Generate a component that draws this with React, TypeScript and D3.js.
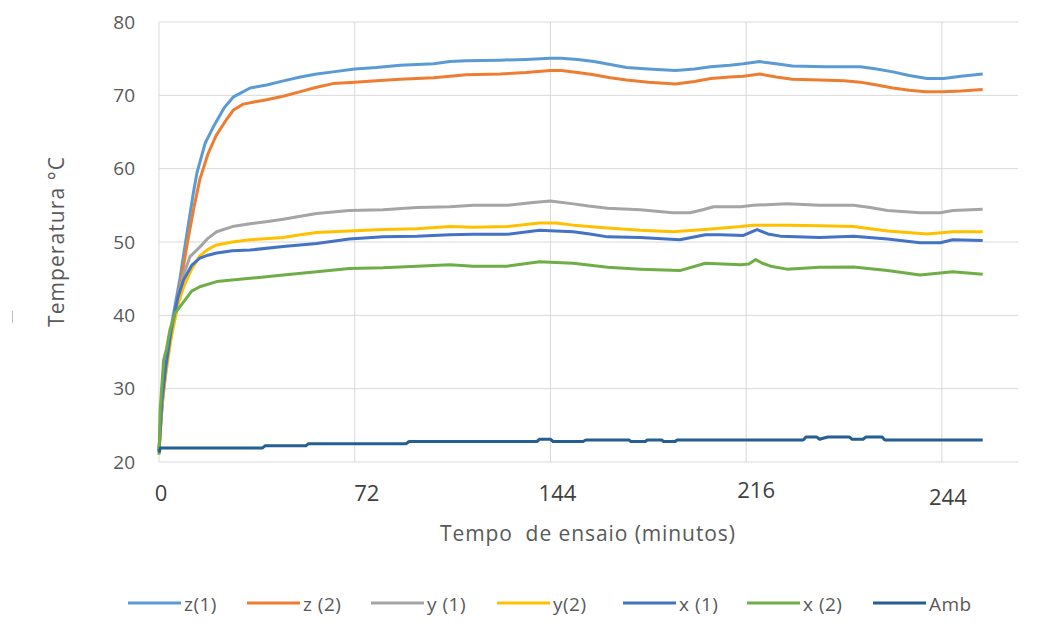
import React from "react";
import * as d3 from "d3";

type Pt = [number, number];

const seriesNames = ["z(1)", "z (2)", "y (1)", "y(2)", "x (1)", "x (2)", "Amb"];
const seriesColors = ["#5B9BD5", "#ED7D31", "#A5A5A5", "#FFC000", "#4472C4", "#70AD47", "#255E91"];

const z1: Pt[] = [[0,21.5],[0.5,25],[1.4,29.4],[2.8,34.8],[5,39.5],[7.7,45],[10.2,51],[12.6,56.6],[14,59.5],[17,63.5],[20,65.7],[24,68.3],[27.4,69.8],[30,70.3],[33.5,71],[39.6,71.4],[45,71.9],[52,72.5],[58,72.9],[64,73.2],[72,73.6],[80,73.8],[88.7,74.1],[101,74.3],[107,74.6],[113,74.7],[125.5,74.8],[135,74.9],[144,75.05],[148,75.05],[154,74.9],[160,74.6],[166,74.2],[172,73.8],[180,73.6],[190,73.4],[197,73.6],[203,73.9],[210,74.1],[215,74.3],[221,74.6],[227,74.3],[233,74],[245,73.9],[258,73.9],[264,73.6],[270,73.2],[276,72.7],[282.5,72.3],[288.6,72.3],[295,72.6],[303,72.9]];

const z2: Pt[] = [[0,21.5],[0.5,24.5],[1.5,29],[3,34],[5.5,39.5],[8,44.5],[10.5,50],[13,55],[15,58.5],[18,62],[21,64.5],[25,66.8],[27.4,68],[31,68.8],[35,69.1],[39.6,69.4],[46,69.9],[52,70.5],[58,71.1],[64,71.6],[72,71.8],[80,72],[88.7,72.2],[101,72.4],[113,72.8],[125.5,72.9],[135,73.1],[144,73.4],[148,73.4],[154,73.1],[160,72.8],[166,72.4],[172,72.1],[180,71.8],[190,71.55],[197,71.9],[203,72.3],[210,72.5],[215,72.6],[221,72.9],[227,72.5],[233,72.2],[243,72.1],[252,72],[258,71.8],[264,71.4],[270,71],[276,70.7],[282,70.5],[288.6,70.5],[295,70.6],[303,70.8]];

const y1: Pt[] = [[0,21.5],[0.5,24.5],[1.4,29.4],[2.8,34.5],[5,38.8],[7.7,43.5],[9,45.5],[11.4,48],[15,49.3],[18,50.5],[21.2,51.4],[27,52.1],[33.5,52.5],[40,52.8],[45.7,53.1],[52,53.5],[58,53.9],[70,54.3],[82.5,54.4],[94.8,54.7],[107,54.8],[115.6,55],[128,55],[137.6,55.4],[144,55.6],[152.4,55.2],[158,54.9],[165,54.6],[177,54.4],[189,54],[195.4,54],[200,54.4],[204,54.8],[214,54.8],[218.7,55],[231,55.2],[243,55],[255.5,55],[261.6,54.7],[268,54.3],[280,54],[287.4,54],[292,54.3],[303,54.45]];

const y2: Pt[] = [[0,21.5],[0.5,24],[1,27.5],[2.5,32],[4.5,37],[7,41.5],[9,43.8],[12,46.3],[15,48.1],[18,49],[21.2,49.6],[27,50],[33.5,50.3],[45.7,50.6],[52,51],[58,51.3],[70,51.5],[82.5,51.7],[94.8,51.8],[107,52.1],[115.6,52],[128,52.1],[140,52.6],[146,52.6],[152.4,52.3],[165,51.9],[177,51.6],[189,51.4],[201,51.7],[214,52.1],[218.7,52.3],[231,52.3],[243,52.2],[255.5,52.1],[268,51.5],[282.5,51.1],[292,51.4],[303,51.4]];

const x1: Pt[] = [[0,21.5],[0.5,24.5],[1,28],[2.5,33],[4.5,38],[7,42.5],[9,44.8],[12,46.8],[15,47.8],[18,48.2],[21.2,48.5],[27,48.8],[33.5,48.9],[45.7,49.4],[58,49.8],[70,50.4],[82.5,50.7],[94.8,50.8],[107,51],[115.6,51.05],[128,51.05],[140,51.6],[146,51.5],[152.4,51.4],[158.5,51.1],[165,50.7],[177,50.6],[191.6,50.3],[201,51],[206.5,51],[215,50.9],[220,51.7],[224,51.1],[228.6,50.8],[243,50.6],[255.5,50.8],[268,50.4],[280,49.9],[287.4,49.9],[292,50.3],[303,50.2]];

const x2: Pt[] = [[0,21],[0.4,27],[1.7,33.9],[2.8,35.5],[4,38],[5.9,40.3],[9,41.8],[12,43.3],[15,43.9],[21.2,44.6],[33.5,45.05],[45.7,45.5],[58,45.95],[70,46.4],[82.5,46.5],[94.8,46.7],[107,46.9],[115.6,46.7],[128,46.7],[140,47.3],[146,47.2],[152.4,47.1],[165,46.55],[177,46.3],[191.6,46.1],[201,47.1],[214,46.9],[217,47],[219.5,47.6],[222,47.1],[225,46.7],[231,46.3],[243,46.55],[255.5,46.6],[268,46.1],[280,45.5],[292,45.95],[303,45.6]];

const amb: Pt[] = [[0,21.3],[0.5,21.9],[38,21.9],[39,22.2],[54,22.2],[55,22.5],[91,22.5],[92,22.8],[139,22.8],[140,23.1],[144,23.1],[145,22.8],[156,22.8],[157,23.0],[173,23.0],[173.5,22.8],[179,22.8],[179.5,23.0],[185,23.0],[185.5,22.8],[190,22.8],[190.5,23.0],[237,23.0],[238,23.4],[242,23.4],[243,23.1],[246,23.4],[254,23.4],[255,23.1],[259,23.1],[260,23.4],[266,23.4],[267,23.0],[303,23.0]];

const seriesData: Pt[][] = [z1, z2, y1, y2, x1, x2, amb];

const yTicks = [20, 30, 40, 50, 60, 70, 80];
const xTickValues = [0, 72, 144, 216, 288];
const xTickLabels = ["0", "72", "144", "216", "244"];

const W = 1057;
const H = 634;
const M = { left: 159, right: 1018, top: 22, bottom: 462 };

export default function App() {
  const x = d3.scaleLinear().domain([0, 316]).range([M.left, M.right]);
  const y = d3.scaleLinear().domain([20, 80]).range([M.bottom, M.top]);
  const line = d3
    .line<Pt>()
    .x((d) => x(d[0]))
    .y((d) => y(d[1]));

  const font = "'Open Sans', 'Segoe UI', sans-serif";
  const labelNudge = [{ dx: 2, dy: 0 }, { dx: 12, dy: 0 }, { dx: 7, dy: 0 }, { dx: 10, dy: -3 }, { dx: 6, dy: 4 }];
  const legendX = [128, 247, 371, 497, 623, 747, 873];

  return (
    <svg width={W} height={H} style={{ position: "absolute", left: 0, top: 0, background: "#fff" }} fontFamily={font}>
      <rect x={0} y={0} width={W} height={H} fill="#fff" />
      {yTicks.map((t) => (
        <line key={"gy" + t} x1={M.left} x2={M.right} y1={y(t)} y2={y(t)} stroke="#D9D9D9" strokeWidth={1} />
      ))}
      {xTickValues.map((t) => (
        <line key={"gx" + t} x1={x(t)} x2={x(t)} y1={M.top} y2={M.bottom} stroke="#D9D9D9" strokeWidth={1} />
      ))}
      {yTicks.map((t) => (
        <text key={"ty" + t} x={135} y={y(t)} dy="0.35em" textAnchor="end" fontSize={19} fill="#595959">
          {t}
        </text>
      ))}
      {xTickValues.map((t, i) => (
        <text
          key={"tx" + t}
          x={x(t) + labelNudge[i].dx}
          y={501 + labelNudge[i].dy}
          textAnchor="middle"
          fontSize={22}
          fill="#404040"
        >
          {xTickLabels[i]}
        </text>
      ))}
      {seriesData.map((s, i) => (
        <path
          key={"s" + i}
          d={line(s) || ""}
          fill="none"
          stroke={seriesColors[i]}
          strokeWidth={3}
          strokeLinejoin="round"
        />
      ))}
      <text
        x={440}
        y={541}
        fontSize={21}
        fill="#595959"
        textLength={295}
        lengthAdjust="spacing"
        style={{ whiteSpace: "pre" }}
      >
        {"Tempo  de ensaio (minutos)"}
      </text>
      <text
        transform="translate(64,327) rotate(-90)"
        fontSize={21}
        fill="#595959"
        textLength={170}
        lengthAdjust="spacing"
      >
        Temperatura °C
      </text>
      <line x1={12.5} x2={12.5} y1={311} y2={323} stroke="#BFBFBF" strokeWidth={1} />
      {seriesNames.map((n, i) => (
        <g key={"lg" + i}>
          <line x1={legendX[i]} x2={legendX[i] + 53} y1={603} y2={603} stroke={seriesColors[i]} strokeWidth={3} />
          <text x={legendX[i] + 56} y={604} dy="0.35em" fontSize={19} fill="#595959" letterSpacing={0.5}>
            {n}
          </text>
        </g>
      ))}
    </svg>
  );
}
